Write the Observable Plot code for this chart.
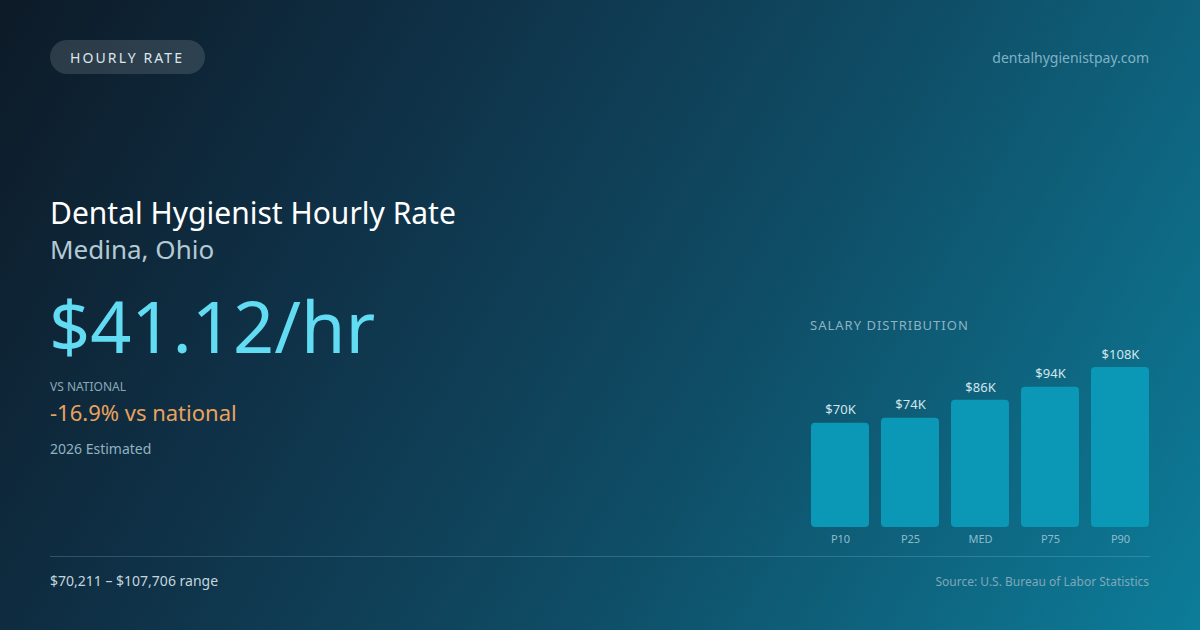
<!DOCTYPE html>
<html>
<head>
<meta charset="utf-8">
<script src="https://cdn.jsdelivr.net/npm/d3@7"></script>
<script src="https://cdn.jsdelivr.net/npm/@observablehq/plot@0.6"></script>
<style>
  html, body { margin: 0; padding: 0; }
  body { width: 1200px; height: 630px; overflow: hidden; font-family: "Noto Sans", "Open Sans", sans-serif; }
  #card {
    position: relative; width: 1200px; height: 630px; overflow: hidden;
    background: linear-gradient(120deg, #0d1a27 0%, #0f3147 30%, #0f4d66 60%, #0e6b86 85%, #0c7d9a 100%);
  }
  .t { position: absolute; white-space: nowrap; line-height: 1; }
  #pill {
    position: absolute; left: 50px; top: 40px; width: 155px; height: 34px; border-radius: 17px;
    background: rgba(255,255,255,0.13); color: #dbe6ec; font-size: 14px; letter-spacing: 2.1px;
    display: flex; align-items: center; justify-content: flex-start; box-sizing: border-box; padding-left: 20px;
  }
  #chart { position: absolute; left: 810px; top: 340px; }
  #rule { position: absolute; left: 50px; top: 556px; width: 1100px; height: 1px; background: rgba(140,200,220,0.25); }
</style>
</head>
<body>
<div id="card">
  <div id="pill">HOURLY RATE</div>
  <div class="t" style="right:51px; top:51px; font-size:14px; color:#7fb2c6;">dentalhygienistpay.com</div>

  <div class="t" style="left:50px; top:198px; font-size:30px; color:#ffffff;">Dental Hygienist Hourly Rate</div>
  <div class="t" style="left:50px; top:236px; font-size:26px; color:#b3cad5;">Medina, Ohio</div>
  <div class="t" style="left:49px; top:289px; font-size:72px; color:#62dcf2;">$41.12/hr</div>
  <div class="t" style="left:50px; top:381px; font-size:12px; color:#8aa9b8;">VS NATIONAL</div>
  <div class="t" style="left:50px; top:401px; font-size:22px; color:#eaa25c;">-16.9% vs national</div>
  <div class="t" style="left:50px; top:442px; font-size:14px; color:#90b2c1;">2026 Estimated</div>

  <div class="t" style="left:810px; top:319px; font-size:13px; letter-spacing:1px; color:#8db3c3;">SALARY DISTRIBUTION</div>
  <div id="chart"></div>

  <div id="rule"></div>
  <div class="t" style="left:50px; top:574px; font-size:14px; color:#c3d6de;">$70,211 – $107,706 range</div>
  <div class="t" style="right:51px; top:576px; font-size:12px; color:#7fa8b9;">Source: U.S. Bureau of Labor Statistics</div>
</div>
<script>
const categories = ["P10", "P25", "MED", "P75", "P90"];
const salaries = [70211, 73600, 85600, 94400, 107706];
const valueLabels = ["$70K", "$74K", "$86K", "$94K", "$108K"];

const data = categories.map((c, i) => ({ cat: c, value: salaries[i], label: valueLabels[i] }));

const chart = Plot.plot({
  width: 340,
  height: 210,
  marginLeft: 0,
  marginRight: 0,
  marginTop: 27,
  marginBottom: 23,
  style: { background: "transparent", fontFamily: "Noto Sans, sans-serif", overflow: "visible" },
  x: { domain: categories, paddingInner: 0.17, paddingOuter: 0, label: null },
  y: { domain: [0, d3.max(salaries)], axis: null },
  marks: [
    Plot.barY(data, { x: "cat", y: "value", fill: "#0b98b6", rx: 4 }),
    Plot.text(data, { x: "cat", y: "value", text: "label", dy: -13, fontSize: 13, fill: "#d3e5ec" }),
    Plot.axisX({ tickSize: 0, tickPadding: 8, fontSize: 11, color: "#8dbccd", label: null })
  ]
});
document.getElementById("chart").appendChild(chart);
</script>
</body>
</html>
